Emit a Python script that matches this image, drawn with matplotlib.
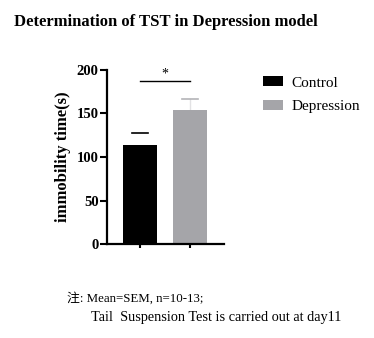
import numpy as np
import matplotlib
matplotlib.use("Agg")
from matplotlib import pyplot as plt
from matplotlib.patches import Patch

# data
groups = ["Control", "Depression"]
means = [113.8, 154.0]
sems = [13.8, 12.7]
colors = ["#000000", "#a5a5a9"]
err_colors = ["#000000", "#e2e2e4"]
cap_colors = ["#000000", "#b4b4b8"]
yticks = [0, 50, 100, 150, 200]
sig_y = 187

serif = ["Liberation Serif", "DejaVu Serif"]
note_fam = ["Liberation Serif", "Noto Sans CJK SC"]

fig = plt.figure(figsize=(3.74, 3.38), dpi=100)
ax = fig.add_axes([0.286, 0.278, 0.313, 0.515])

x = np.arange(len(groups))
ax.bar(x, means, width=0.68, color=colors, zorder=2)
for i in range(len(groups)):
    # vertical whisker (hidden for control, as in the original)
    if i > 0:
        ax.plot([x[i], x[i]], [means[i], means[i] + sems[i]], color=err_colors[i], lw=1.0, zorder=1)
    ax.plot([x[i] - 0.16, x[i] + 0.16], [means[i] + sems[i]] * 2, color=cap_colors[i], lw=1.2, zorder=1)

ax.set_xlim(-0.66, 1.68)
ax.set_ylim(0, 200)
ax.set_yticks(yticks)
ax.set_xticks(x)
ax.set_xticklabels(["", ""])
for lbl in ax.get_yticklabels():
    lbl.set_fontfamily(serif)
    lbl.set_fontweight("bold")
    lbl.set_fontsize(10.5)
ax.tick_params(axis="y", direction="out", width=1.5, length=5, pad=1)
ax.tick_params(axis="x", direction="out", width=1.5, length=3)
ax.spines["top"].set_visible(False)
ax.spines["right"].set_visible(False)
ax.spines["left"].set_linewidth(1.6)
ax.spines["bottom"].set_linewidth(1.6)
ax.set_ylabel("immobility time(s)", family=serif, fontweight="bold", fontsize=12, labelpad=4)

# significance bar
ax.plot([0, 1], [sig_y, sig_y], color="black", lw=1.0, clip_on=False)
ax.text(0.5, sig_y + 1, "*", ha="center", va="bottom", fontsize=10, family=serif)

fig.text(0.038, 0.935, "Determination of TST in Depression model", family=serif,
         fontweight="bold", fontsize=12, ha="left", va="center")

handles = [Patch(facecolor=c) for c in colors]
fig.legend(handles, groups, loc="upper left", bbox_to_anchor=(0.666, 0.815), frameon=False,
           prop={"family": serif, "size": 11}, handlelength=1.3, handleheight=0.6,
           labelspacing=0.7, handletextpad=0.6)

fig.text(0.179, 0.118, "注: Mean=SEM, n=10-13;", family=note_fam, fontsize=9.3, va="center")
fig.text(0.243, 0.060, "Tail  Suspension Test is carried out at day11", family=serif,
         fontsize=10.3, va="center")

fig.savefig("out.png", dpi=100)
